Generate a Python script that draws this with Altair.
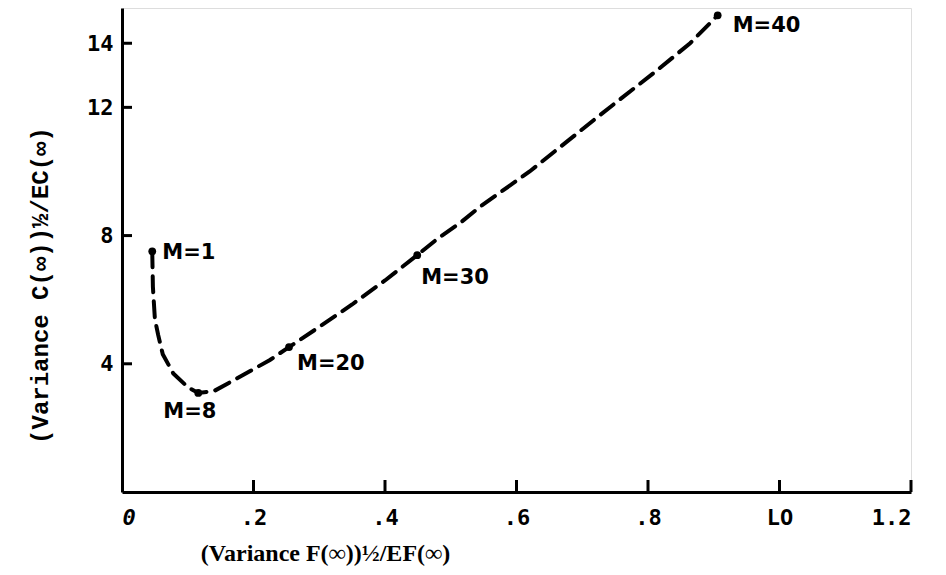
import json
import altair as alt
import pandas as pd

# curve (x = (Var F)^1/2 / EF, y = (Var C)^1/2 / EC)
curve_x = [0.046, 0.047, 0.050, 0.055, 0.062, 0.078, 0.100, 0.116, 0.140, 0.180, 0.225, 0.254,
           0.300, 0.350, 0.400, 0.449, 0.481, 0.514, 0.544, 0.620, 0.727, 0.814, 0.864, 0.906]
curve_y = [7.51, 6.40, 5.40, 4.90, 4.30, 3.70, 3.27, 3.09, 3.15, 3.60, 4.12, 4.52,
           5.15, 5.85, 6.60, 7.39, 7.92, 8.39, 8.89, 10.0, 11.76, 13.16, 14.0, 14.87]

point_labels = ["M=1", "M=8", "M=20", "M=30", "M=40"]
point_x = [0.046, 0.116, 0.254, 0.449, 0.906]
point_y = [7.51, 3.09, 4.52, 7.39, 14.87]

x_tick_values = [0, 0.2, 0.4, 0.6, 0.8, 1.0, 1.2]
x_tick_labels = ["0", ".2", ".4", ".6", ".8", "LO", "1.2"]
y_tick_values = [4, 8, 12, 14]

curve = pd.DataFrame({"x": curve_x, "y": curve_y, "order": list(range(len(curve_x)))})
points = pd.DataFrame({"x": point_x, "y": point_y, "label": point_labels})
xticks = pd.DataFrame({"x": x_tick_values[1:]})
yticks = pd.DataFrame({"y": y_tick_values})

W, H = 789, 484
xscale = alt.Scale(domain=[0, 1.2], nice=False)
yscale = alt.Scale(domain=[0, 15.1], nice=False)

label_expr = json.dumps(x_tick_labels) + "[round(datum.value*5)]"

x_axis = alt.Axis(
    values=x_tick_values, labelExpr=label_expr, ticks=False, tickSize=0, grid=False,
    domainWidth=3, domainColor="black", labelFont="DejaVu Sans Mono", labelFontWeight="bold",
    labelFontSize=22, labelColor="black", labelPadding=15,
    labelFontStyle={"condition": {"test": "datum.value == 0", "value": "italic"}, "value": "normal"},
    title="(Variance F(∞))½/EF(∞)", titleFont="Liberation Serif", titleFontWeight="bold",
    titleFontSize=24, titleColor="black", titleX=203, titleY=61, titleBaseline="middle",
    titleAlign="center",
)
y_axis = alt.Axis(
    values=y_tick_values, ticks=False, tickSize=0, grid=False,
    domainWidth=3, domainColor="black", labelFont="DejaVu Sans Mono", labelFontWeight="bold",
    labelFontSize=22, labelColor="black", labelPadding=9,
    title="(Variance C(∞))½/EC(∞)", titleFont="Liberation Mono", titleFontWeight="bold",
    titleFontSize=24, titleColor="black", titleX=-82, titleY=277, titleAngle=-90,
    titleBaseline="middle", titleAlign="center",
)

line = alt.Chart(curve).mark_line(
    color="black", strokeWidth=4, strokeDash=[16, 9], strokeCap="round"
).encode(
    x=alt.X("x:Q", scale=xscale, axis=x_axis),
    y=alt.Y("y:Q", scale=yscale, axis=y_axis),
    order="order:Q",
)

dots = alt.Chart(points).mark_circle(color="black", size=60, opacity=1).encode(
    x=alt.X("x:Q", scale=xscale), y=alt.Y("y:Q", scale=yscale)
)

offsets = {"M=1": (10, 2), "M=8": (-35, 19), "M=20": (8, 17), "M=30": (4, 23), "M=40": (15, 11)}
text_layers = []
for lab, (dx, dy) in offsets.items():
    text_layers.append(
        alt.Chart(points).transform_filter(alt.datum.label == lab).mark_text(
            align="left", baseline="middle", dx=dx, dy=dy, font="DejaVu Sans",
            fontSize=21, fontWeight="bold", color="black"
        ).encode(x=alt.X("x:Q", scale=xscale), y=alt.Y("y:Q", scale=yscale), text="label:N")
    )

xtick_rules = alt.Chart(xticks).mark_rule(color="black", strokeWidth=3).encode(
    x=alt.X("x:Q", scale=xscale), y=alt.value(H), y2=alt.value(H - 12)
)
ytick_rules = alt.Chart(yticks).mark_rule(color="black", strokeWidth=3).encode(
    y=alt.Y("y:Q", scale=yscale), x=alt.value(0), x2=alt.value(10)
)

chart = alt.layer(line, dots, xtick_rules, ytick_rules, *text_layers).properties(
    width=W, height=H,
    autosize=alt.AutoSizeParams(type="none"),
    padding={"left": 114, "top": 0, "right": 20, "bottom": 75},
).configure_view(stroke=None).configure(background="white")

chart.save("out.html", embed_options={"renderer": "svg", "actions": False})
